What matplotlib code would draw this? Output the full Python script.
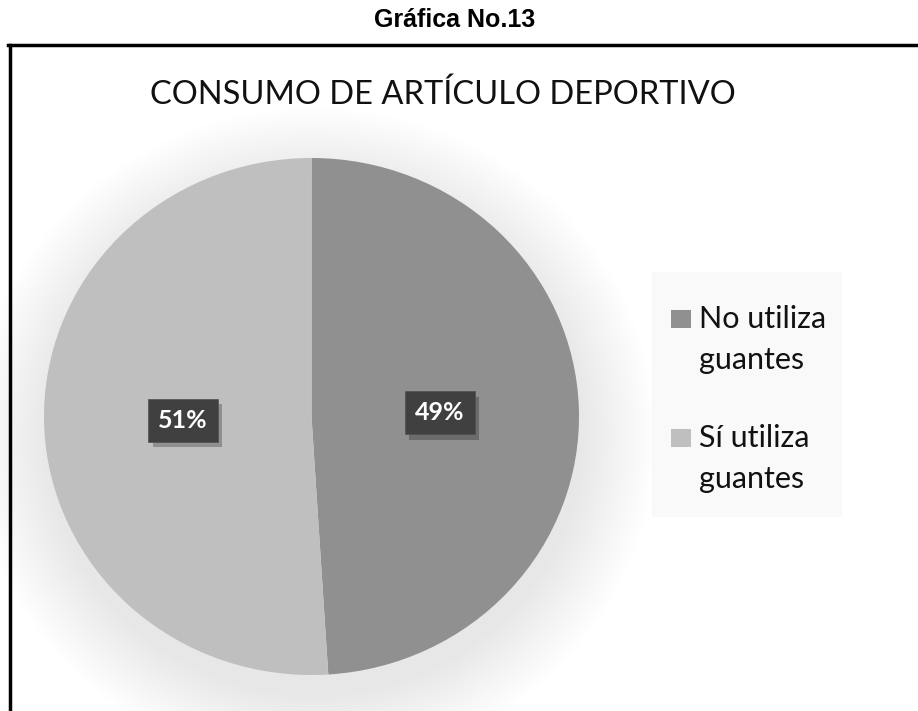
import matplotlib.pyplot as plt
import matplotlib.patheffects as pe
from matplotlib.patches import Ellipse, Rectangle
from matplotlib.lines import Line2D

categorias = ["No utiliza\nguantes", "Sí utiliza\nguantes"]
porcentajes = [49, 51]
colores = ["#909090", "#bfbfbf"]

W, H = 918, 711
fig = plt.figure(figsize=(W / 100, H / 100), dpi=100)
fig.patch.set_facecolor("white")

# marco de la gráfica (linea superior e izquierda)
fig.add_artist(Line2D([8 / W, 1], [1 - 45 / H, 1 - 45 / H], color="black", lw=2.5))
fig.add_artist(Line2D([10 / W, 10 / W], [0, 1 - 45 / H], color="black", lw=2.5))

fig.text(455 / W, 1 - 20 / H, "Gráfica No.13", ha="center", va="center",
         fontsize=18, fontweight="bold", family="Liberation Sans")
fig.text(443 / W, 1 - 95 / H, "CONSUMO DE ARTÍCULO DEPORTIVO", ha="center",
         va="center", fontsize=23.5, color="#111111", family="Lato")

# ejes del pastel (elipse ligeramente achatada como en la imagen)
x0, x1, y0, y1 = 44, 579, 158, 675
ax = fig.add_axes([x0 / W, 1 - y1 / H, (x1 - x0) / W, (y1 - y0) / H])
ax.axis("off")

# sombra difusa
for i in range(24):
    s = 1.0 + 0.012 * i
    ax.add_patch(Ellipse((0.01, -0.08), 2 * s, 2 * s, color="black",
                         alpha=0.0055, lw=0, clip_on=False, zorder=0))

wedges, textos, autotextos = ax.pie(
    porcentajes, colors=colores, startangle=90, counterclock=False,
    radius=1, autopct="%d%%", pctdistance=0.48,
    wedgeprops=dict(linewidth=0),
    textprops=dict(color="white", fontsize=18, fontweight="bold", family="Lato"))
for w in wedges:
    w.set_zorder(2)
for t in autotextos:
    t.set_zorder(5)
    t.set_bbox(dict(boxstyle="square,pad=0.4", facecolor="#404040",
                    edgecolor="#505050", lw=0.5))
    t.get_bbox_patch().set_path_effects(
        [pe.SimplePatchShadow(offset=(3, -4), shadow_rgbFace="black", alpha=0.25),
         pe.Normal()])
ax.set_xlim(-1, 1)
ax.set_ylim(-1, 1)
ax.set_aspect("auto")

# leyenda: fondo claro, cuadro alineado con la primera linea
fig.add_artist(Rectangle((652 / W, 1 - 517 / H), 190 / W, 245 / H,
                         transform=fig.transFigure, facecolor="#f9f9f9",
                         edgecolor="none", zorder=1))
base_y = [328, 447]  # linea base del primer renglon de cada entrada
for etiqueta, color, by in zip(categorias, colores, base_y):
    fig.add_artist(Rectangle((671 / W, 1 - by / H), 20 / W, 18 / H,
                             transform=fig.transFigure, facecolor=color,
                             edgecolor="none", zorder=2))
    for k, renglon in enumerate(etiqueta.split("\n")):
        fig.text(699 / W, 1 - (by + 41 * k) / H, renglon, ha="left",
                 va="baseline", fontsize=22, family="Lato", color="#111111",
                 zorder=3)

fig.savefig("out.png", dpi=100)
